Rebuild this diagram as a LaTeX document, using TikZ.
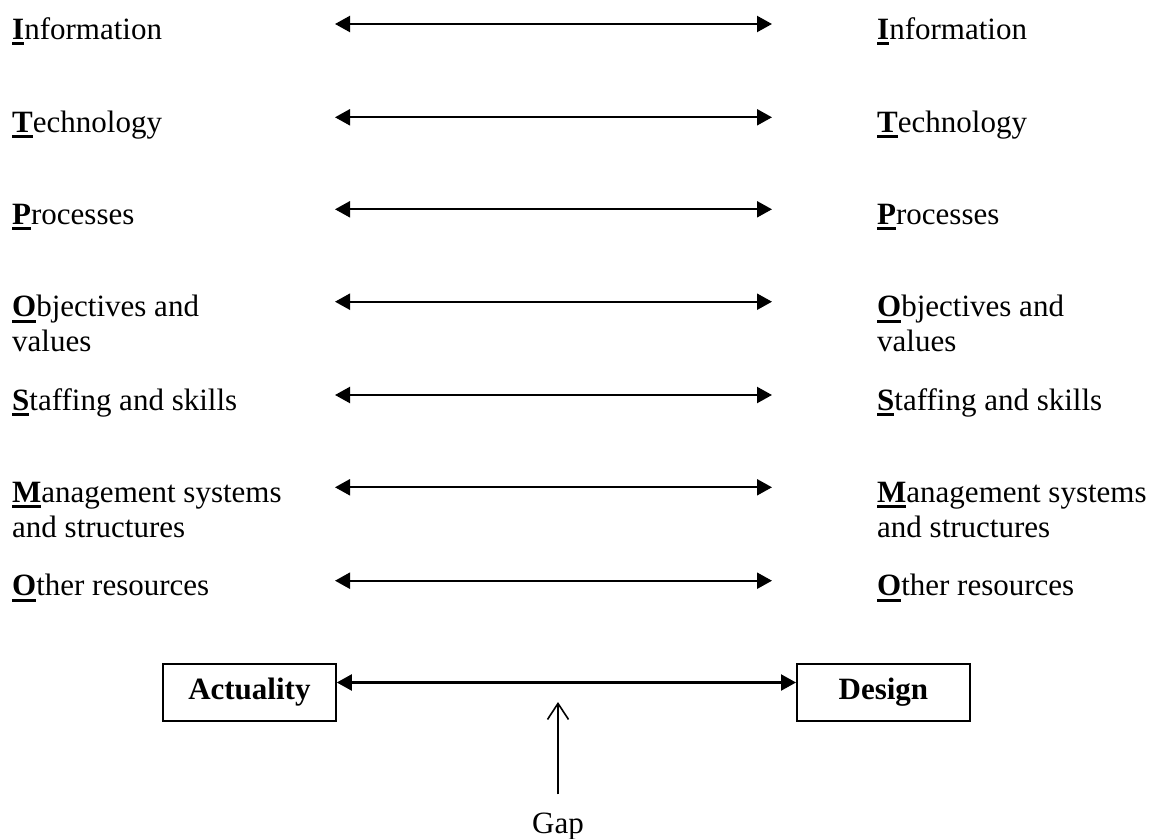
\documentclass[tikz,border=0pt]{standalone}
\usepackage{fontspec}
\setmainfont{Liberation Serif}
\usetikzlibrary{arrows.meta}
\newcommand\ulb[1]{\setbox0\hbox{\bfseries #1}\rlap{\rule[-6pt]{\wd0}{3pt}}\box0}
\newcommand\twol[2]{\vtop{\baselineskip=35pt\hbox{#1}\hbox{#2}}}
\tikzset{
  lbl/.style={anchor=base west, inner sep=0pt, font=\fontsize{31}{35}\selectfont},
  dbl/.style={line width=2.2pt, {Triangle[length=15pt,width=16pt]}-{Triangle[length=15pt,width=16pt]}},
  boxn/.style={draw, line width=1.8pt, minimum width=173pt, minimum height=57pt, inner sep=0pt, font=\fontsize{31}{35}\selectfont\bfseries},
  gaparrow/.style={line width=1.6pt, -{Straight Barb[length=16pt,width=21pt,line width=1.6pt]}}
}
\begin{document}
\begin{tikzpicture}[x=1pt,y=-1pt]
\useasboundingbox (0,0) rectangle (1159,838);
% rows
\foreach \i/\y/\t in {1/24/{\ulb{I}nformation},2/117.3/{\ulb{T}echnology},3/209.3/{\ulb{P}rocesses},4/301.7/{\twol{\ulb{O}bjectives and}{values}},5/395/{\ulb{S}taffing and skills},6/487.3/{\twol{\ulb{M}anagement systems}{and structures}},7/580.7/{\ulb{O}ther resources}}{
  \node[lbl] (L\i) at (12,\y+15) {\t};
  \node[lbl] (R\i) at (877,\y+15) {\t};
  \coordinate (al\i) at (335,\y);
  \coordinate (ar\i) at (772,\y);
  \draw[dbl] (al\i) -- (ar\i);
}
% boxes
\node[boxn] (act) at (249.4,692.5) {Actuality};
\node[boxn] (des) at (883.4,692.5) {Design};
\draw[dbl] ([yshift=10pt]act.east) -- ([yshift=10pt]des.west);
% gap
\node[lbl, anchor=base] (gap) at (558,833) {Gap};
\coordinate (gaptip) at (558,702);
\draw[gaparrow, shorten <=18pt] (gap.north) -- (gaptip);
\end{tikzpicture}
\end{document}
